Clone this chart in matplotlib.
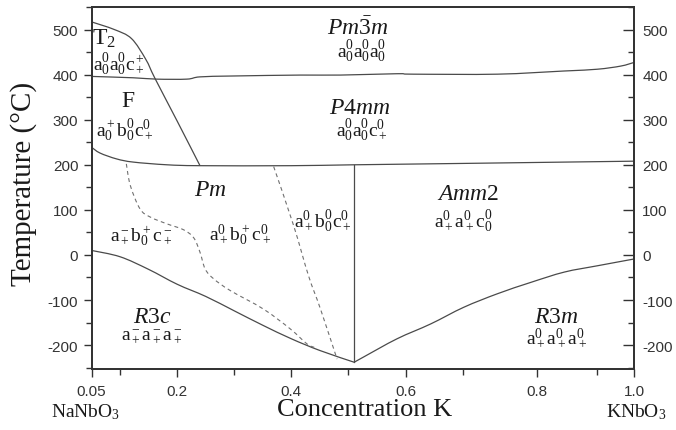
import matplotlib
matplotlib.use("Agg")
import numpy as np
import matplotlib.pyplot as plt
from matplotlib.path import Path
from matplotlib.patches import PathPatch
from matplotlib.ticker import FixedLocator, FixedFormatter, MultipleLocator

plt.rcParams["mathtext.fontset"] = "custom"
plt.rcParams["mathtext.rm"] = "Liberation Serif"
plt.rcParams["mathtext.it"] = "Liberation Serif:italic"
plt.rcParams["mathtext.bf"] = "Liberation Serif:bold"
plt.rcParams["axes.unicode_minus"] = False

SERIF = "Liberation Serif"
SANS = "Liberation Sans"

# --- phase boundaries (concentration K, temperature in °C) ---
cubic_x = [0.05, 0.123, 0.164, 0.217, 0.24, 0.30, 0.416, 0.486, 0.585, 0.614, 0.761, 0.877, 0.936, 0.977, 1.0]
cubic_t = [396, 393, 390, 390, 395, 397, 399, 399, 402, 401, 401, 408, 412, 419, 427]

t2_x = [0.05, 0.09, 0.12, 0.145, 0.161, 0.20, 0.240]
t2_t = [517, 500, 480, 434, 392, 297, 198]

tetra_x = [0.05, 0.065, 0.094, 0.123, 0.182, 0.24, 0.40, 0.51, 0.70, 1.0]
tetra_t = [239, 226, 213, 206, 200, 198, 198, 200, 203, 208]

mpb_x = [0.51, 0.51]
mpb_t = [200, -238]

r3c_x = [0.05, 0.10, 0.15, 0.20, 0.25, 0.30, 0.35, 0.40, 0.45, 0.51]
r3c_t = [10, -4, -32, -65, -92, -124, -156, -186, -212, -238]

r3m_x = [0.51, 0.527, 0.585, 0.644, 0.702, 0.761, 0.819, 0.878, 0.936, 1.0]
r3m_t = [-238, -226, -186, -153, -116, -86, -61, -38, -24, -9]

pm_left_x = [0.111, 0.118, 0.135, 0.153, 0.182, 0.211, 0.229, 0.240, 0.249, 0.264, 0.293, 0.351, 0.398, 0.427, 0.44]
pm_left_t = [202, 154, 102, 84, 69, 56, 38, 6, -31, -53, -79, -120, -164, -197, -205]

pm_right_x = [0.369, 0.404, 0.43, 0.451, 0.48]
pm_right_t = [196, 65, -46, -120, -231]

# --- region labels ---
phase_names = [r"$\mathit{Pm\bar{3}m}$", r"$\mathit{P4mm}$", r"$\mathrm{T}_2$", "F",
               r"$\mathit{Pm}$", r"$\mathit{Amm2}$", r"$\mathit{R3c}$", r"$\mathit{R3m}$"]
phase_x = [0.517, 0.519, 0.072, 0.114, 0.258, 0.709, 0.156, 0.863]
phase_t = [505, 328, 482, 342, 146, 137, -136, -136]

tilt_names = [
    r"$\mathrm{a}_0^0\mathrm{a}_0^0\mathrm{a}_0^0$",
    r"$\mathrm{a}_0^0\mathrm{a}_0^0\mathrm{c}_+^0$",
    r"$\mathrm{a}_0^0\mathrm{a}_0^0\mathrm{c}_+^+$",
    r"$\mathrm{a}_0^+\mathrm{b}_0^0\mathrm{c}_+^0$",
    r"$\mathrm{a}_+^-\mathrm{b}_0^+\mathrm{c}_+^-$",
    r"$\mathrm{a}_+^0\mathrm{b}_0^+\mathrm{c}_+^0$",
    r"$\mathrm{a}_+^0\mathrm{b}_0^0\mathrm{c}_+^0$",
    r"$\mathrm{a}_+^0\mathrm{a}_+^0\mathrm{c}_0^0$",
    r"$\mathrm{a}_+^-\mathrm{a}_+^-\mathrm{a}_+^-$",
    r"$\mathrm{a}_+^0\mathrm{a}_+^0\mathrm{a}_+^0$",
]
tilt_x = [0.523, 0.523, 0.098, 0.109, 0.138, 0.311, 0.455, 0.702, 0.156, 0.864]
tilt_t = [452, 277, 423, 277, 44, 46, 75, 75, -177, -182]

# --- axes ticks ---
x_major = [0.05, 0.2, 0.4, 0.6, 0.83, 1.0]
x_major_labels = ["0.05", "0.2", "0.4", "0.6", "0.8", "1.0"]
x_minor = [0.1, 0.3, 0.5, 0.7, 0.935]
y_major = [-200, -100, 0, 100, 200, 300, 400, 500]


def smooth_curve(xs, ys):
    """Catmull-Rom spline through the given points, as a cubic Bezier path."""
    pts = np.column_stack([xs, ys]).astype(float)
    n = len(pts)
    verts = [pts[0]]
    codes = [Path.MOVETO]
    for i in range(n - 1):
        p0 = pts[i - 1] if i > 0 else pts[i]
        p1 = pts[i]
        p2 = pts[i + 1]
        p3 = pts[i + 2] if i + 2 < n else pts[i + 1]
        verts += [p1 + (p2 - p0) / 6.0, p2 - (p3 - p1) / 6.0, p2]
        codes += [Path.CURVE4] * 3
    return Path(verts, codes)


W, H = 676, 431
fig = plt.figure(figsize=(W / 100, H / 100), dpi=100)
ax = fig.add_axes([91.5 / W, 1 - 370 / H, (634 - 91.5) / W, (370 - 8) / H])
ax.set_xlim(0.05, 1.0)
ax.set_ylim(-253, 550)

line_c = "#4a4a4a"
dash_c = "#707070"
for xs, ts in [(cubic_x, cubic_t), (t2_x, t2_t), (tetra_x, tetra_t),
               (r3c_x, r3c_t), (r3m_x, r3m_t)]:
    ax.add_patch(PathPatch(smooth_curve(xs, ts), fill=False, edgecolor=line_c, lw=0.9))
ax.plot(mpb_x, mpb_t, color=line_c, lw=0.9)
for xs, ts in [(pm_left_x, pm_left_t), (pm_right_x, pm_right_t)]:
    ax.add_patch(PathPatch(smooth_curve(xs, ts), fill=False, edgecolor=dash_c, lw=0.8,
                           linestyle=(0, (3.5, 3))))

for name, x, t in zip(phase_names, phase_x, phase_t):
    ax.text(x, t, name, fontsize=17, family=SERIF, ha="center", va="center", color="#1a1a1a")
for name, x, t in zip(tilt_names, tilt_x, tilt_t):
    ax.text(x, t, name, fontsize=14, family=SERIF, ha="center", va="center", color="#1a1a1a")

for s in ax.spines.values():
    s.set_linewidth(1.3)
    s.set_color("#333333")

ax.xaxis.set_major_locator(FixedLocator(x_major))
ax.xaxis.set_major_formatter(FixedFormatter(x_major_labels))
ax.xaxis.set_minor_locator(FixedLocator(x_minor))
ax.yaxis.set_major_locator(FixedLocator(y_major))
ax.yaxis.set_minor_locator(MultipleLocator(50))

ax.tick_params(axis="x", which="major", direction="out", length=6, width=1, colors="#333333",
               labelsize=11, pad=5)
ax.tick_params(axis="x", which="minor", direction="out", length=4, width=1, colors="#333333")
ax.tick_params(axis="y", which="major", direction="out", length=6, width=1, colors="#333333",
               labelsize=11, left=True, right=False)
ax.tick_params(axis="y", which="minor", direction="out", length=4, width=1, colors="#333333")
for lbl in ax.get_xticklabels() + ax.get_yticklabels():
    lbl.set_family(SANS)

# right-hand temperature scale
ax2 = ax.twinx()
ax2.set_ylim(ax.get_ylim())
ax2.yaxis.set_major_locator(FixedLocator(y_major))
ax2.yaxis.set_minor_locator(MultipleLocator(50))
ax2.tick_params(axis="y", which="major", direction="in", length=8, width=1, colors="#333333",
                labelsize=11, pad=6)
ax2.tick_params(axis="y", which="minor", direction="in", length=4, width=1, colors="#333333")
for lbl in ax2.get_yticklabels():
    lbl.set_family(SANS)
for s in ax2.spines.values():
    s.set_linewidth(1.3)
    s.set_color("#333333")

fig.text(24 / W, 1 - 184 / H, "Temperature (°C)", rotation=90, fontsize=21, family=SERIF,
         ha="center", va="center", color="#1a1a1a")
fig.text(365 / W, 1 - 410 / H, "Concentration K", fontsize=19, family=SERIF,
         ha="center", va="center", color="#1a1a1a")
fig.text(86 / W, 1 - 412 / H, r"NaNbO$_3$", fontsize=14, family=SERIF,
         ha="center", va="center", color="#1a1a1a")
fig.text(636 / W, 1 - 412 / H, r"KNbO$_3$", fontsize=14, family=SERIF,
         ha="center", va="center", color="#1a1a1a")

fig.savefig("out.png", dpi=100)
